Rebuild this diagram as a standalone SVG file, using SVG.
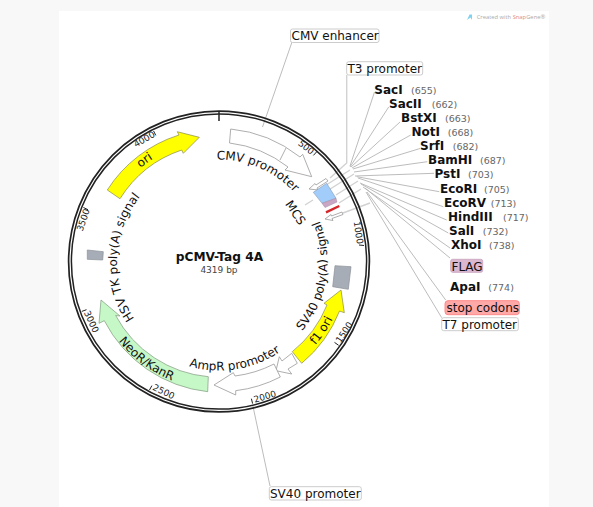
<svg xmlns="http://www.w3.org/2000/svg" width="593" height="507" viewBox="0 0 593 507">
<style>
text{font-family:"DejaVu Sans",Verdana,sans-serif;fill:#111}
.l{font-size:12px}
.e{font-size:12px;font-weight:bold}
.n{font-size:9.5px;fill:#666}
.t{font-size:9px;fill:#222;text-anchor:middle}
.b{fill:#fff;stroke:#ccc;stroke-width:1}
.a{fill:#fff;stroke:#999;stroke-width:.8}
.c{fill:none;stroke:#b4b4b4;stroke-width:.9}
.s{fill:none;stroke:#d2d2d2;stroke-width:1.4}
.k{stroke:#222;stroke-width:1}
.g{fill:#a7adb7;stroke:#8b8f96;stroke-width:.7}
</style>
<defs>
<path id="pCmv" d="M216.7,159.5A102,102 0 0 1 314.8,226.6"/>
<path id="pSv" d="M302.1,331.2A108.5,108.5 0 0 0 307.9,199.3"/>
<path id="pHsv" d="M134.4,318.5A102,102 0 0 1 160.5,178"/>
<path id="pAmp" d="M189,366.3A109,109 0 0 0 302.5,331.5"/>
<path id="pNeo" d="M118.7,341A128,128 0 0 0 219,389.5"/>
<path id="pF1" d="M315.3,345.1A127.5,127.5 0 0 0 346.5,261.5"/>
<path id="pOri" d="M140.6,168A122,122 0 0 1 219,139.5"/>
</defs>
<rect width="593" height="507" fill="#f8f8f8"/>
<rect x="59" y="11" width="490" height="496" fill="#fff"/>
<g id="credit">
<path d="M467,20L469.5,14.5L472,14.5L472,20L470.5,17.5Z" fill="#7fd3f0"/>
<text x="476.7" y="18.5" font-size="5.8" style="font-family:'Open Sans',sans-serif;fill:#aaa">Created with <tspan fill="#e58a80">Snap</tspan>Gene®</text>
</g>
<g id="connectors">
<path class="c" d="M292,42L262.5,127"/>
<path class="s" d="M346.7,75V163L330,178"/>
<path class="c" d="M374.5,92L350,166"/>
<path class="c" d="M388.7,107L350,167"/>
<path class="c" d="M400,122L351,167"/>
<path class="c" d="M410.7,135L352,168"/>
<path class="c" d="M420,148.5L353,169"/>
<path class="c" d="M427.3,161.7L354,172"/>
<path class="c" d="M434,173.3L355,176"/>
<path class="c" d="M439.3,191.7L356.7,176.7"/>
<path class="c" d="M443.3,206.7L358,178"/>
<path class="c" d="M446.7,220L360,183"/>
<path class="c" d="M448.3,233L361,184"/>
<path class="c" d="M450,248L363,187"/>
<path class="c" d="M450,258L365,188"/>
<path class="c" d="M445.7,300L367,192"/>
<path class="c" d="M441.7,317.7L366,192"/>
<path class="s" stroke-width="1" d="M323,187L350,170M327,191L354,174M336,195L358,181M339,203L361,189M343,213L370,203"/>
<path class="s" d="M305,205L313,200"/>
<path class="c" d="M270,486L252.7,405"/>
</g>
<g id="backbone">
<circle cx="219" cy="261.5" r="150.4" fill="none" stroke="#222" stroke-width="1.7"/>
<circle cx="219" cy="261.5" r="147.6" fill="none" stroke="#222" stroke-width="1.5"/>
<path d="M219,111V121" stroke="#222" stroke-width="1.5"/>
<path class="k" d="M313.4,155.4L316.8,151.7M359,245L364,245.5M334.5,342.4L338.6,345.3M251.4,398.7L252.6,403.6M151.9,385.6L149.5,390M86.5,309.7L81.8,311.4M88,209.7L83.4,207.5M155.8,135.4L153.6,131"/>
<text class="t" transform="translate(306 147.5) rotate(38)" y="3">500</text>
<text class="t" transform="translate(358.3 232.7) rotate(82)" y="3">1000</text>
<text class="t" transform="translate(344.3 332.3) rotate(-57)" y="3">1500</text>
<text class="t" transform="translate(265 396.7) rotate(-16)" y="3">2000</text>
<text class="t" transform="translate(163.7 391.7) rotate(26)" y="3">2500</text>
<text class="t" transform="translate(91.3 321.7) rotate(65)" y="3">3000</text>
<text class="t" transform="translate(83.3 220) rotate(-71)" y="3">3500</text>
<text class="t" transform="translate(144.3 139.3) rotate(-30)" y="3">4000</text>
</g>
<g id="title">
<text x="219.5" y="261" text-anchor="middle" font-size="12.2" font-weight="bold">pCMV-Tag 4A</text>
<text x="219" y="273" text-anchor="middle" font-size="9" style="fill:#444">4319 bp</text>
</g>
<g id="cmv-promoter">
<path class="a" d="M230.7,129A132.5,132.5 0 0 1 300,157L302.7,154.3L311.7,176.7L285,170L288,167A118,118 0 0 0 229.5,143Z"/>
<path class="a" fill="none" d="M286,148L280,160"/>
<text class="l"><textPath href="#pCmv">CMV promoter</textPath></text>
</g>
<g id="cmv-enhancer"><rect class="b" x="290.5" y="29" width="88.5" height="13.5" rx="2"/><text class="l" x="291.5" y="40">CMV enhancer</text></g>
<g id="t3-promoter">
<rect class="b" x="346.7" y="61.7" width="76" height="13.3" rx="2"/><text class="l" x="347.5" y="73">T3 promoter</text>
<polygon class="a" points="309,189 315,183.5 316,185 326,178.5 328,181 317,188 318,190"/>
</g>
<g id="mcs">
<polygon points="313.3,192.3 326.7,183.3 336,198.3 322,203.3" fill="#a2cdfb" stroke="#8a9bb0" stroke-width=".6"/>
<polygon points="322,203.3 336,198.3 337,202 325,207.5" fill="#c9a6c4" stroke="#a58aa5" stroke-width=".5"/>
<text class="l" transform="translate(292 215) rotate(56)" text-anchor="middle">MCS</text>
</g>
<g id="stop"><path d="M326,212.3L339.3,206" stroke="#d4262b" stroke-width="2.4"/></g>
<g id="t7-promoter">
<polygon class="a" points="325,219 331,214.5 331.5,216 342,212 343,214.5 332,218.5 333,220.5"/>
<rect class="b" x="441.7" y="317.7" width="76.6" height="13" rx="2"/><text class="l" x="442.5" y="329">T7 promoter</text>
</g>
<g id="sv40-polya">
<polygon class="g" points="335,265.7 351,266.7 348.3,289.3 332.7,286.7"/>
<text class="l"><textPath href="#pSv">SV40 poly(A) signal</textPath></text>
</g>
<g id="f1-ori">
<path fill="#ffff00" stroke="#8a8a50" stroke-width=".7" d="M292.3,351.7L301.7,363.3A130,130 0 0 0 339.5,311L344.3,312.7L341,290L324,303.3L327,305A115,115 0 0 1 292.3,351.7Z"/>
<text class="l"><textPath href="#pF1">f1 ori</textPath></text>
</g>
<g id="ampr-promoter">
<path class="a" d="M276,370.7L279.3,356.7L282,361L291.7,353.3L297.3,363.3L288,369L291.7,374Z"/>
<path class="a" d="M214,385L233.3,372.7L235,376A117,117 0 0 0 274,364L280.3,377A132,132 0 0 1 235.7,390.7L235.7,395Z"/>
<text class="l"><textPath href="#pAmp">AmpR promoter</textPath></text>
</g>
<g id="neor-kanr">
<path fill="#c6f7c6" stroke="#7f9a7f" stroke-width=".7" d="M208.3,376.7L207.7,391.7A132,132 0 0 1 104.3,320.7L99,323.3L101,300L120,316L115.7,315.5A117,117 0 0 0 208.3,376.7Z"/>
<text class="l"><textPath href="#pNeo">NeoR/KanR</textPath></text>
</g>
<g id="hsv-tk-polya">
<polygon class="g" points="87.3,250 103.3,251.7 102.7,260 87.3,259.3"/>
<text class="l"><textPath href="#pHsv">HSV TK poly(A) signal</textPath></text>
</g>
<g id="ori">
<path fill="#ffff00" stroke="#8a8a50" stroke-width=".7" d="M107.3,190L120,198.7A117,117 0 0 1 181.7,150L183.3,153.3L199.3,137.3L177.3,131.7L179,135A132,132 0 0 0 107.3,190Z"/>
<text class="l"><textPath href="#pOri">ori</textPath></text>
</g>
<g id="sv40-promoter"><rect class="b" x="269.3" y="486.7" width="92" height="13.3" rx="2"/><text class="l" x="270" y="498">SV40 promoter</text></g>
<g id="flag"><rect x="450.7" y="259.3" width="32" height="13" rx="2" fill="#dcb8d0" stroke="#cdaac4"/><text class="l" x="451.5" y="270.5">FLAG</text></g>
<g id="stop-codons"><rect x="445" y="300.7" width="74.3" height="14" rx="3" fill="#ffa8a8" stroke="#f88"/><text class="l" x="446.5" y="312">stop codons</text></g>
<g id="sites">
<g id="SacI"><text class="e" x="374.3" y="94">SacI</text><text class="n" x="411" y="94">(655)</text></g>
<g id="SacII"><text class="e" x="389" y="108">SacII</text><text class="n" x="431.7" y="108">(662)</text></g>
<g id="BstXI"><text class="e" x="401" y="122">BstXI</text><text class="n" x="445" y="122">(663)</text></g>
<g id="NotI"><text class="e" x="411.5" y="136">NotI</text><text class="n" x="447.7" y="136">(668)</text></g>
<g id="SrfI"><text class="e" x="420" y="150">SrfI</text><text class="n" x="452.7" y="150">(682)</text></g>
<g id="BamHI"><text class="e" x="428" y="164">BamHI</text><text class="n" x="480" y="164">(687)</text></g>
<g id="PstI"><text class="e" x="434.5" y="178">PstI</text><text class="n" x="468" y="178">(703)</text></g>
<g id="EcoRI"><text class="e" x="440" y="192.7">EcoRI</text><text class="n" x="484" y="192.7">(705)</text></g>
<g id="EcoRV"><text class="e" x="444" y="206.7">EcoRV</text><text class="n" x="490.7" y="206.7">(713)</text></g>
<g id="HindIII"><text class="e" x="448" y="220.7">HindIII</text><text class="n" x="503" y="220.7">(717)</text></g>
<g id="SalI"><text class="e" x="449" y="235">SalI</text><text class="n" x="482.7" y="235">(732)</text></g>
<g id="XhoI"><text class="e" x="451" y="249">XhoI</text><text class="n" x="489" y="249">(738)</text></g>
<g id="ApaI"><text class="e" x="450" y="290.7">ApaI</text><text class="n" x="488.3" y="290.7">(774)</text></g>
</g>
</svg>
